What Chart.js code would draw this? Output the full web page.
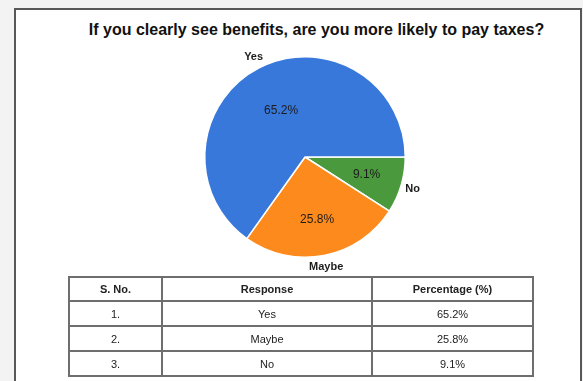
<!DOCTYPE html>
<html>
<head>
<meta charset="utf-8">
<script src="https://cdn.jsdelivr.net/npm/chart.js@4/dist/chart.umd.min.js"></script>
<style>
  html, body { margin: 0; padding: 0; }
  body { width: 583px; height: 381px; background: #f3f3f3; position: relative; overflow: hidden;
         font-family: "Liberation Sans", Arial, sans-serif; color: #1a1a1a; }
  #frame { position: absolute; left: 14px; top: 8px; width: 568px; height: 400px;
           box-sizing: border-box; border: 2px solid #585858; background: #fff; }
  #title { position: absolute; left: 0; top: 20px; width: 633px; text-align: center;
           font-weight: bold; font-size: 16px; line-height: 19px; color: #111; }
  #pieBox { position: absolute; left: 150px; top: 40px; width: 310px; height: 240px; }
  table { position: absolute; left: 68px; top: 276px; border-collapse: collapse;
          font-size: 11px; color: #222; }
  td, th { border: 2px solid #6e6e6e; text-align: center; padding: 0; height: 23px; }
  th { font-weight: bold; height: 22px; }
</style>
</head>
<body>
<div id="frame"></div>
<div id="title">If you clearly see benefits, are you more likely to pay taxes?</div>
<div id="pieBox"><canvas id="pie"></canvas></div>
<table id="tbl">
  <thead><tr></tr></thead>
  <tbody></tbody>
</table>
<script>
// Survey answers
const categories = ['Yes', 'Maybe', 'No'];
const percentages = [65.2, 25.8, 9.1];
const serialNumbers = ['1.', '2.', '3.'];
const tableHeaders = ['S. No.', 'Response', 'Percentage (%)'];

const sliceColors = { 'Yes': '#3878db', 'Maybe': '#fd8a1c', 'No': '#4a9a3d' };
const columnWidths = [91, 208, 159];

// Table header and rows
const headRow = document.querySelector('#tbl thead tr');
tableHeaders.forEach((h, i) => {
  const th = document.createElement('th');
  th.textContent = h;
  th.style.width = columnWidths[i] + 'px';
  headRow.appendChild(th);
});
const tbody = document.querySelector('#tbl tbody');
categories.forEach((c, i) => {
  const tr = document.createElement('tr');
  [serialNumbers[i], c, percentages[i].toFixed(1) + '%'].forEach(t => {
    const td = document.createElement('td');
    td.textContent = t;
    tr.appendChild(td);
  });
  tbody.appendChild(tr);
});

// Slices go clockwise from 3 o'clock: No, Maybe, Yes
const pieLabels = categories.slice().reverse();
const pieValues = percentages.slice().reverse();

const sliceLabels = {
  id: 'sliceLabels',
  afterDatasetsDraw(chart, args, opts) {
    const ctx = chart.ctx;
    const meta = chart.getDatasetMeta(0);
    ctx.save();
    ctx.textAlign = 'center';
    ctx.textBaseline = 'middle';
    meta.data.forEach((arc, i) => {
      const p = arc.getProps(['x', 'y', 'startAngle', 'endAngle', 'outerRadius'], true);
      const mid = (p.startAngle + p.endAngle) / 2;
      const frac = opts.inner[i];
      ctx.fillStyle = '#1c1c1c';
      ctx.font = '12px "Liberation Sans", Arial, sans-serif';
      ctx.fillText(pieValues[i].toFixed(1) + '%',
        p.x + Math.cos(mid) * p.outerRadius * frac,
        p.y + Math.sin(mid) * p.outerRadius * frac);
      ctx.font = 'bold 11px "Liberation Sans", Arial, sans-serif';
      const r = p.outerRadius + opts.outer;
      ctx.fillText(pieLabels[i], p.x + Math.cos(mid) * r, p.y + Math.sin(mid) * r);
    });
    ctx.restore();
  }
};

new Chart(document.getElementById('pie'), {
  type: 'pie',
  data: {
    labels: pieLabels,
    datasets: [{
      data: pieValues,
      backgroundColor: pieLabels.map(l => sliceColors[l]),
      borderColor: '#ffffff',
      borderWidth: 1.5
    }]
  },
  options: {
    responsive: true,
    maintainAspectRatio: false,
    animation: false,
    rotation: 90,
    layout: { padding: { left: 54, right: 54, top: 16, bottom: 22 } },
    plugins: {
      legend: { display: false },
      tooltip: { enabled: false },
      sliceLabels: { inner: [0.64, 0.64, 0.52], outer: 12 }
    }
  },
  plugins: [sliceLabels]
});
</script>
</body>
</html>
